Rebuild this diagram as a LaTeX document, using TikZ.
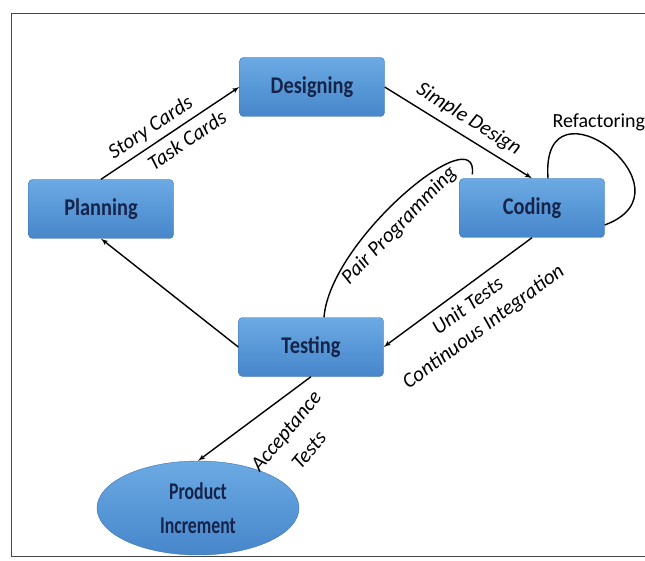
\documentclass[tikz,border=0pt]{standalone}
\usepackage{fontspec}
\setmainfont{Carlito}
\newfontfamily\boxfont[FakeStretch=0.85]{Carlito}
\newfontfamily\ovalfont[FakeStretch=0.74]{Carlito}
\usetikzlibrary{shapes.geometric}
\usetikzlibrary{arrows}
\usetikzlibrary{calc}
\usepackage{xcolor}

\definecolor{boxtop}{RGB}{108,170,228}
\definecolor{boxbottom}{RGB}{70,134,202}
\definecolor{boxtext}{RGB}{22,36,74}
\definecolor{framegray}{RGB}{70,70,70}

\begin{document}
\begin{tikzpicture}[x=1pt, y=-1pt, >=latex', line width=1.4pt,
    box/.style={rectangle, rounded corners=4pt, top color=boxtop, bottom color=boxbottom,
      draw=boxbottom!85!black, line width=0.4pt, minimum width=145pt, minimum height=59pt,
      text=boxtext, font=\boxfont\bfseries\fontsize{24}{28}\selectfont},
    lbl/.style={font=\itshape\fontsize{21}{26}\selectfont, text=black, inner sep=2pt}]
      \useasboundingbox (0,0) rectangle (645,561);
      % frame
      \draw [-, framegray, line width=1pt] (645,14) -- (11,14) -- (11,556) -- (645,556);

      % states
      \node [box, name=plan] at (101,209) {Planning};
      \node [box, name=design] at (312,87) {Designing};
      \node [box, name=code] at (532,208) {Coding};
      \node [box, name=test] at (311,347) {Testing};
      \node [box, ellipse, sharp corners, name=prod, minimum width=202pt, minimum height=94pt,
      align=center, inner sep=0pt, font=\ovalfont\bfseries\fontsize{24}{34}\selectfont] at (198,508) {Product\\Increment};

      % transitions
      \draw [->] (plan.north) -- (design.west)
      node [lbl, sloped, pos=0.42, above=3pt] {Story Cards}
      node [lbl, sloped, pos=0.56, below=5pt] {Task Cards};
      \draw [->] (design.east) -- (code.north)
      node [lbl, sloped, pos=0.51, above=5pt] {Simple Design};
      \draw [->] (code.south) -- (test.east)
      node [lbl, sloped, pos=0.5, below=6pt, align=center] {Unit Tests\\Continuous Integration};
      \draw [->] (test.west) -- (plan.south);
      \draw [->] (test.south) -- (prod.north)
      node [lbl, pos=0.5, xshift=43pt, yshift=-22pt, rotate=50, align=center,
      font=\itshape\fontsize{21}{30}\selectfont] {Acceptance\\Tests};

      % loops
      \draw [-] ($(test.north)+(13,0)$) .. controls ($(test.north)+(19,-78)$) and
      ($(code.north west)+(20,-62)$) .. ($(code.north west)+(13,-4)$)
      node [lbl, sloped, pos=0.42, below=8pt] {Pair Programming};
      \draw [-] ($(code.north)+(16,0)$) .. controls ($(code.north)+(8,-109)$) and
      ($(code.east)+(95,-18)$) .. ($(code.east)+(0,17)$)
      node [lbl, font=\fontsize{20}{25}\selectfont, pos=0.4, anchor=south, xshift=7pt, yshift=4pt] {Refactoring};
    \end{tikzpicture}
\end{document}
